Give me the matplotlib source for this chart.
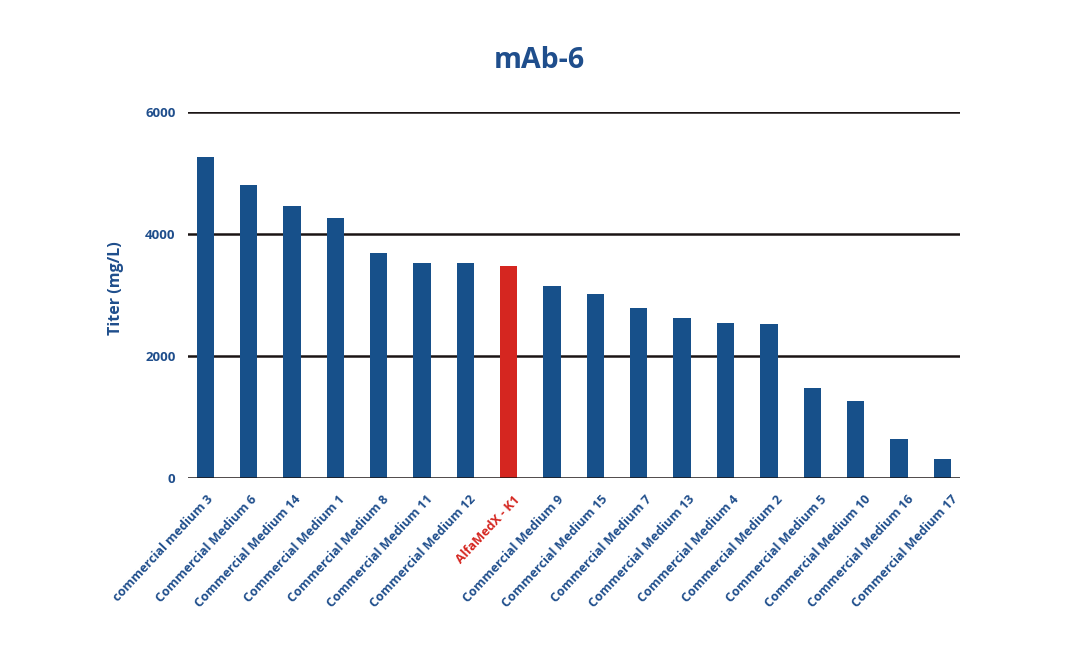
import matplotlib.pyplot as plt

# Titer per medium
media = ['commercial medium 3', 'Commercial Medium 6', 'Commercial Medium 14',
         'Commercial Medium 1', 'Commercial Medium 8', 'Commercial Medium 11',
         'Commercial Medium 12', 'AlfaMedX - K1', 'Commercial Medium 9',
         'Commercial Medium 15', 'Commercial Medium 7', 'Commercial Medium 13',
         'Commercial Medium 4', 'Commercial Medium 2', 'Commercial Medium 5',
         'Commercial Medium 10', 'Commercial Medium 16', 'Commercial Medium 17']
titer = [5260, 4800, 4460, 4255, 3690, 3530, 3530, 3470, 3150,
         3010, 2780, 2630, 2540, 2520, 1470, 1270, 635, 320]
highlight = 'AlfaMedX - K1'
yticks = [0, 2000, 4000, 6000]

blue = '#17508a'
red = '#d52620'
text_blue = '#1f4e8c'

plt.rcParams['font.family'] = ['Open Sans', 'DejaVu Sans']

fig = plt.figure(figsize=(10.71, 6.48), dpi=100)
ax = fig.add_axes([0.1755, 0.2623, 0.7205, 0.5649])

colors = [red if m == highlight else blue for m in media]
x = list(range(len(media)))
ax.bar(x, titer, width=0.4, color=colors, zorder=3)

ax.set_xlim(-0.4, len(media) - 0.6)
ax.set_ylim(0, 6000)
ax.set_yticks(yticks)
ax.set_yticklabels([str(v) for v in yticks], color=text_blue,
                   fontweight='bold', fontsize=9.5)
for v in yticks:
    ax.axhline(v, color='#1a1414', lw=1.8, zorder=2 if v else 4)

# category labels, rotated, hanging from each bar position
# (the original labels drift slightly to the right along the axis)
ax.set_xticks([])
n = len(media)
for i, m in enumerate(media):
    dx = 1 + 8 * i / (n - 1)
    ax.annotate(m, xy=(i, 0), xytext=(dx, -15), textcoords='offset pixels',
                rotation=47, ha='right', va='top', rotation_mode='anchor',
                fontweight='bold', fontsize=9.1, annotation_clip=False,
                color=red if m == highlight else text_blue)
ax.tick_params(axis='both', length=0)
ax.tick_params(axis='y', pad=9)

for s in ax.spines.values():
    s.set_visible(False)

ax.set_ylabel('Titer (mg/L)', color=text_blue, fontweight='bold',
              fontsize=11.5)
ax.yaxis.set_label_coords(-0.083, 0.52)
fig.text(0.5035, 0.906, 'mAb-6', ha='center', va='center',
         color=text_blue, fontweight='bold', fontsize=20.5)

fig.savefig('out.png', dpi=100)
